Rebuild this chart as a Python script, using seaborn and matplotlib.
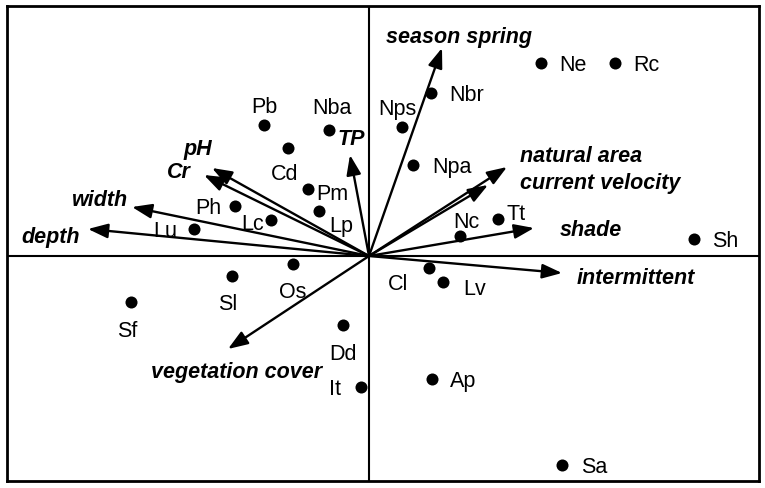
import matplotlib
matplotlib.use("Agg")
import matplotlib.pyplot as plt
import seaborn as sns
import pandas as pd

# species scores (axis 1, axis 2)
species = ['Ne', 'Rc', 'Nbr', 'Nps', 'Npa', 'Nc', 'Tt', 'Sh', 'Pb', 'Nba', 'Cd',
           'Pm', 'Lp', 'Ph', 'Lc', 'Lu', 'Os', 'Sl', 'Sf', 'Dd', 'It', 'Cl',
           'Lv', 'Ap', 'Sa']
sp_x = [1.72, 2.46, 0.62, 0.33, 0.44, 0.91, 1.29, 3.25, -1.05, -0.40, -0.81,
        -0.61, -0.50, -1.34, -0.98, -1.75, -0.76, -1.37, -2.38, -0.26, -0.08,
        0.60, 0.74, 0.63, 1.93]
sp_y = [1.93, 1.93, 1.63, 1.29, 0.91, 0.20, 0.37, 0.17, 1.31, 1.26, 1.08,
        0.67, 0.45, 0.50, 0.36, 0.27, -0.08, -0.20, -0.46, -0.69, -1.31,
        -0.12, -0.26, -1.23, -2.09]

# environmental variable vectors
env = ['season spring', 'natural area', 'current velocity', 'shade',
       'intermittent', 'vegetation cover', 'TP', 'pH', 'Cr', 'width', 'depth']
env_x = [0.73, 1.38, 1.19, 1.65, 1.93, -1.41, -0.19, -1.57, -1.65, -2.37, -2.81]
env_y = [2.08, 0.89, 0.71, 0.28, -0.17, -0.93, 1.01, 0.88, 0.81, 0.49, 0.27]

# label placement: (dx, dy in pixels, horizontal alignment)
sp_pos = {
    'Ne': (18, 0, 'left'), 'Rc': (18, 0, 'left'), 'Nbr': (18, 0, 'left'),
    'Nps': (-5, 20, 'center'), 'Npa': (19, 0, 'left'), 'Nc': (6, 16, 'center'),
    'Tt': (9, 7, 'left'), 'Sh': (18, 0, 'left'), 'Pb': (0, 20, 'center'),
    'Nba': (3, 24, 'center'), 'Cd': (-3, -24, 'center'), 'Pm': (8, -3, 'left'),
    'Lp': (10, -13, 'left'), 'Ph': (-14, 0, 'right'), 'Lc': (-7, -2, 'right'),
    'Lu': (-17, 0, 'right'), 'Os': (0, -26, 'center'), 'Sl': (-4, -26, 'center'),
    'Sf': (-4, -27, 'center'), 'Dd': (0, -27, 'center'), 'It': (-20, 0, 'right'),
    'Cl': (-31, -14, 'center'), 'Lv': (20, -5, 'left'), 'Ap': (18, 0, 'left'),
    'Sa': (19, 0, 'left'),
}
env_pos = {
    'season spring': (17, 13, 'center'), 'natural area': (13, 13, 'left'),
    'current velocity': (32, 4, 'left'), 'shade': (26, 0, 'left'),
    'intermittent': (15, -3, 'left'), 'vegetation cover': (9, -21, 'center'),
    'TP': (1, 18, 'center'), 'pH': (-14, 21, 'center'), 'Cr': (-25, 5, 'center'),
    'width': (-4, 9, 'right'), 'depth': (-8, -6, 'right'),
}
TEXT_SHIFT = -2.5  # font box sits a bit high with va='center'

sns.set_style('white')
plt.rcParams['font.family'] = ['Liberation Sans', 'DejaVu Sans']
plt.rcParams['text.color'] = 'black'

fig = plt.figure(figsize=(7.65, 4.88), dpi=100)
ax = fig.add_axes([7 / 765, 7 / 488, 752 / 765, 475 / 488])

df = pd.DataFrame({'species': species, 'x': sp_x, 'y': sp_y})
sns.scatterplot(data=df, x='x', y='y', color='black', s=75, linewidth=0, ax=ax)

ax.axhline(0, color='black', lw=1.5, zorder=0)
ax.axvline(0, color='black', lw=1.5, zorder=0)

for name, x, y in zip(species, sp_x, sp_y):
    dx, dy, ha = sp_pos[name]
    ax.annotate(name, (x, y), xytext=(dx, dy + TEXT_SHIFT),
                textcoords='offset pixels', ha=ha, va='center',
                fontsize=15.5, color='black')

for name, x, y in zip(env, env_x, env_y):
    ax.annotate('', xy=(x, y), xytext=(0, 0),
                arrowprops=dict(arrowstyle='-|>,head_length=0.6,head_width=0.22',
                                color='black', lw=1.7, mutation_scale=20,
                                shrinkA=0, shrinkB=0))
    dx, dy, ha = env_pos[name]
    ax.annotate(name, (x, y), xytext=(dx, dy + TEXT_SHIFT),
                textcoords='offset pixels', ha=ha, va='center',
                fontsize=15.5, fontweight='bold', fontstyle='italic',
                color='black')

ax.set_xlim(-3.62, 3.90)
ax.set_ylim(-2.25, 2.50)
ax.set_xticks([])
ax.set_yticks([])
ax.set_xlabel('')
ax.set_ylabel('')
for sp in ax.spines.values():
    sp.set_linewidth(2)
    sp.set_color('black')

fig.savefig('out.png', dpi=100)
